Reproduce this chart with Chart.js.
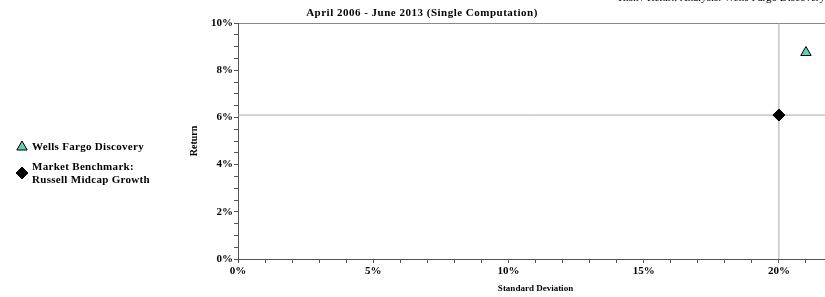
<!DOCTYPE html>
<html>
<head>
<meta charset="utf-8">
<script src="https://cdn.jsdelivr.net/npm/chart.js@4.4.1/dist/chart.umd.min.js"></script>
<style>
  html, body { margin: 0; padding: 0; background: #fff; overflow: hidden; }
  #wrap { width: 840px; height: 297px; position: relative; }
</style>
</head>
<body>
<div id="wrap"><canvas id="c" width="840" height="297"></canvas></div>
<script>
// ---- Data ----
const seriesNames = ["Wells Fargo Discovery", "Market Benchmark:\nRussell Midcap Growth"];
const stdDev = [21.0, 20.0];      // x: Standard Deviation (%)
const returns = [8.75, 6.1];      // y: Return (%)
const xTickLabelsEvery = 5;       // labels 0%,5%,10%,15%,20%
const yTickLabelsEvery = 2;       // labels 0%..10%
const xMin = 0, xMax = 22, yMin = 0, yMax = 10;
const chartTitle = "April 2006 - June 2013 (Single Computation)";
const topText = "Risk / Return Analysis: Wells Fargo Discovery";

const FONT = "'Liberation Serif', 'DejaVu Serif', serif";

const overlay = {
  id: 'overlay',
  afterDraw(chart) {
    const ctx = chart.ctx;
    ctx.save();
    // title
    ctx.fillStyle = '#000';
    ctx.font = "bold 11px " + FONT;
    ctx.letterSpacing = '0.5px';
    ctx.textAlign = 'center';
    ctx.textBaseline = 'middle';
    ctx.fillText(chartTitle, 422, 13);
    // cut-off top text
    ctx.font = "11px " + FONT;
    ctx.letterSpacing = '0px';
    ctx.textAlign = 'right';
    ctx.textBaseline = 'alphabetic';
    ctx.fillText(topText, 825, 1);
    // legend
    const ds = chart.data.datasets;
    const items = [
      {ds: ds[2], y: 147, lines: seriesNames[0].split("\n"), ty: 147},
      {ds: ds[3], y: 173, lines: seriesNames[1].split("\n"), ty: 167}
    ];
    items.forEach(it => {
      ctx.fillStyle = it.ds.backgroundColor;
      ctx.strokeStyle = it.ds.borderColor;
      ctx.lineWidth = 1;
      Chart.helpers.drawPoint(ctx, {pointStyle: it.ds.pointStyle, radius: it.ds.pointRadius, borderWidth: 1}, 22, it.y);
      ctx.fillStyle = '#000';
      ctx.font = "bold 11px " + FONT;
      ctx.letterSpacing = '0.3px';
      ctx.textAlign = 'left';
      ctx.textBaseline = 'middle';
      it.lines.forEach((l, i) => ctx.fillText(l, 32, it.ty + i * 13));
    });
    ctx.restore();
  }
};

new Chart(document.getElementById('c'), {
  type: 'scatter',
  data: {
    datasets: [
      { // vertical reference line at benchmark std dev
        type: 'line', order: 5,
        data: [{x: stdDev[1], y: yMin}, {x: stdDev[1], y: yMax}],
        borderColor: '#a8a8a8', borderWidth: 1, pointRadius: 0, fill: false
      },
      { // horizontal reference line at benchmark return
        type: 'line', order: 5,
        data: [{x: xMin, y: returns[1]}, {x: xMax, y: returns[1]}],
        borderColor: '#a8a8a8', borderWidth: 1, pointRadius: 0, fill: false
      },
      {
        label: seriesNames[0], order: 1,
        data: [{x: stdDev[0], y: returns[0]}],
        pointStyle: 'triangle', pointRadius: 6, pointHoverRadius: 6,
        backgroundColor: '#5fcfb5', borderColor: '#000', borderWidth: 1
      },
      {
        label: seriesNames[1], order: 1,
        data: [{x: stdDev[1], y: returns[1]}],
        pointStyle: 'rectRot', pointRadius: 6, pointHoverRadius: 6,
        backgroundColor: '#000', borderColor: '#000', borderWidth: 1
      }
    ]
  },
  options: {
    responsive: false,
    animation: false,
    events: [],
    layout: { padding: { left: 183, top: 23, right: 0, bottom: 0 } },
    plugins: { legend: { display: false }, tooltip: { enabled: false }, title: { display: false } },
    scales: {
      x: {
        type: 'linear', min: xMin, max: xMax,
        afterFit(s) { s.height = 38; },
        border: { color: '#555', width: 1 },
        grid: {
          color: 'rgba(0,0,0,0)', tickColor: '#555', tickLength: 4, drawTicks: true
        },
        ticks: {
          stepSize: 1, autoSkip: false, maxRotation: 0, padding: 2, color: '#000',
          font: { family: FONT, size: 11, weight: 'bold' },
          callback: v => (v % xTickLabelsEvery === 0 ? v + '%' : '')
        },
        title: {
          display: true, text: 'Standard Deviation', color: '#000',
          font: { family: FONT, size: 9, weight: 'bold' }, padding: { top: 0, bottom: 3 }
        }
      },
      y: {
        type: 'linear', min: yMin, max: yMax,
        afterFit(s) { s.width = 55; },
        border: { color: '#555', width: 1 },
        grid: {
          color: ctx => (ctx.tick && ctx.tick.value === yMax ? '#888' : 'rgba(0,0,0,0)'),
          tickColor: '#555', tickLength: 4, drawTicks: true
        },
        ticks: {
          stepSize: 0.5, autoSkip: false, padding: 1, color: '#000',
          font: { family: FONT, size: 11, weight: 'bold' },
          callback: v => (v % yTickLabelsEvery === 0 ? v + '%' : '')
        },
        title: {
          display: true, text: 'Return', color: '#000',
          font: { family: FONT, size: 10, weight: 'bold' }, padding: { top: 5, bottom: 0 }
        }
      }
    }
  },
  plugins: [overlay]
});
</script>
</body>
</html>
